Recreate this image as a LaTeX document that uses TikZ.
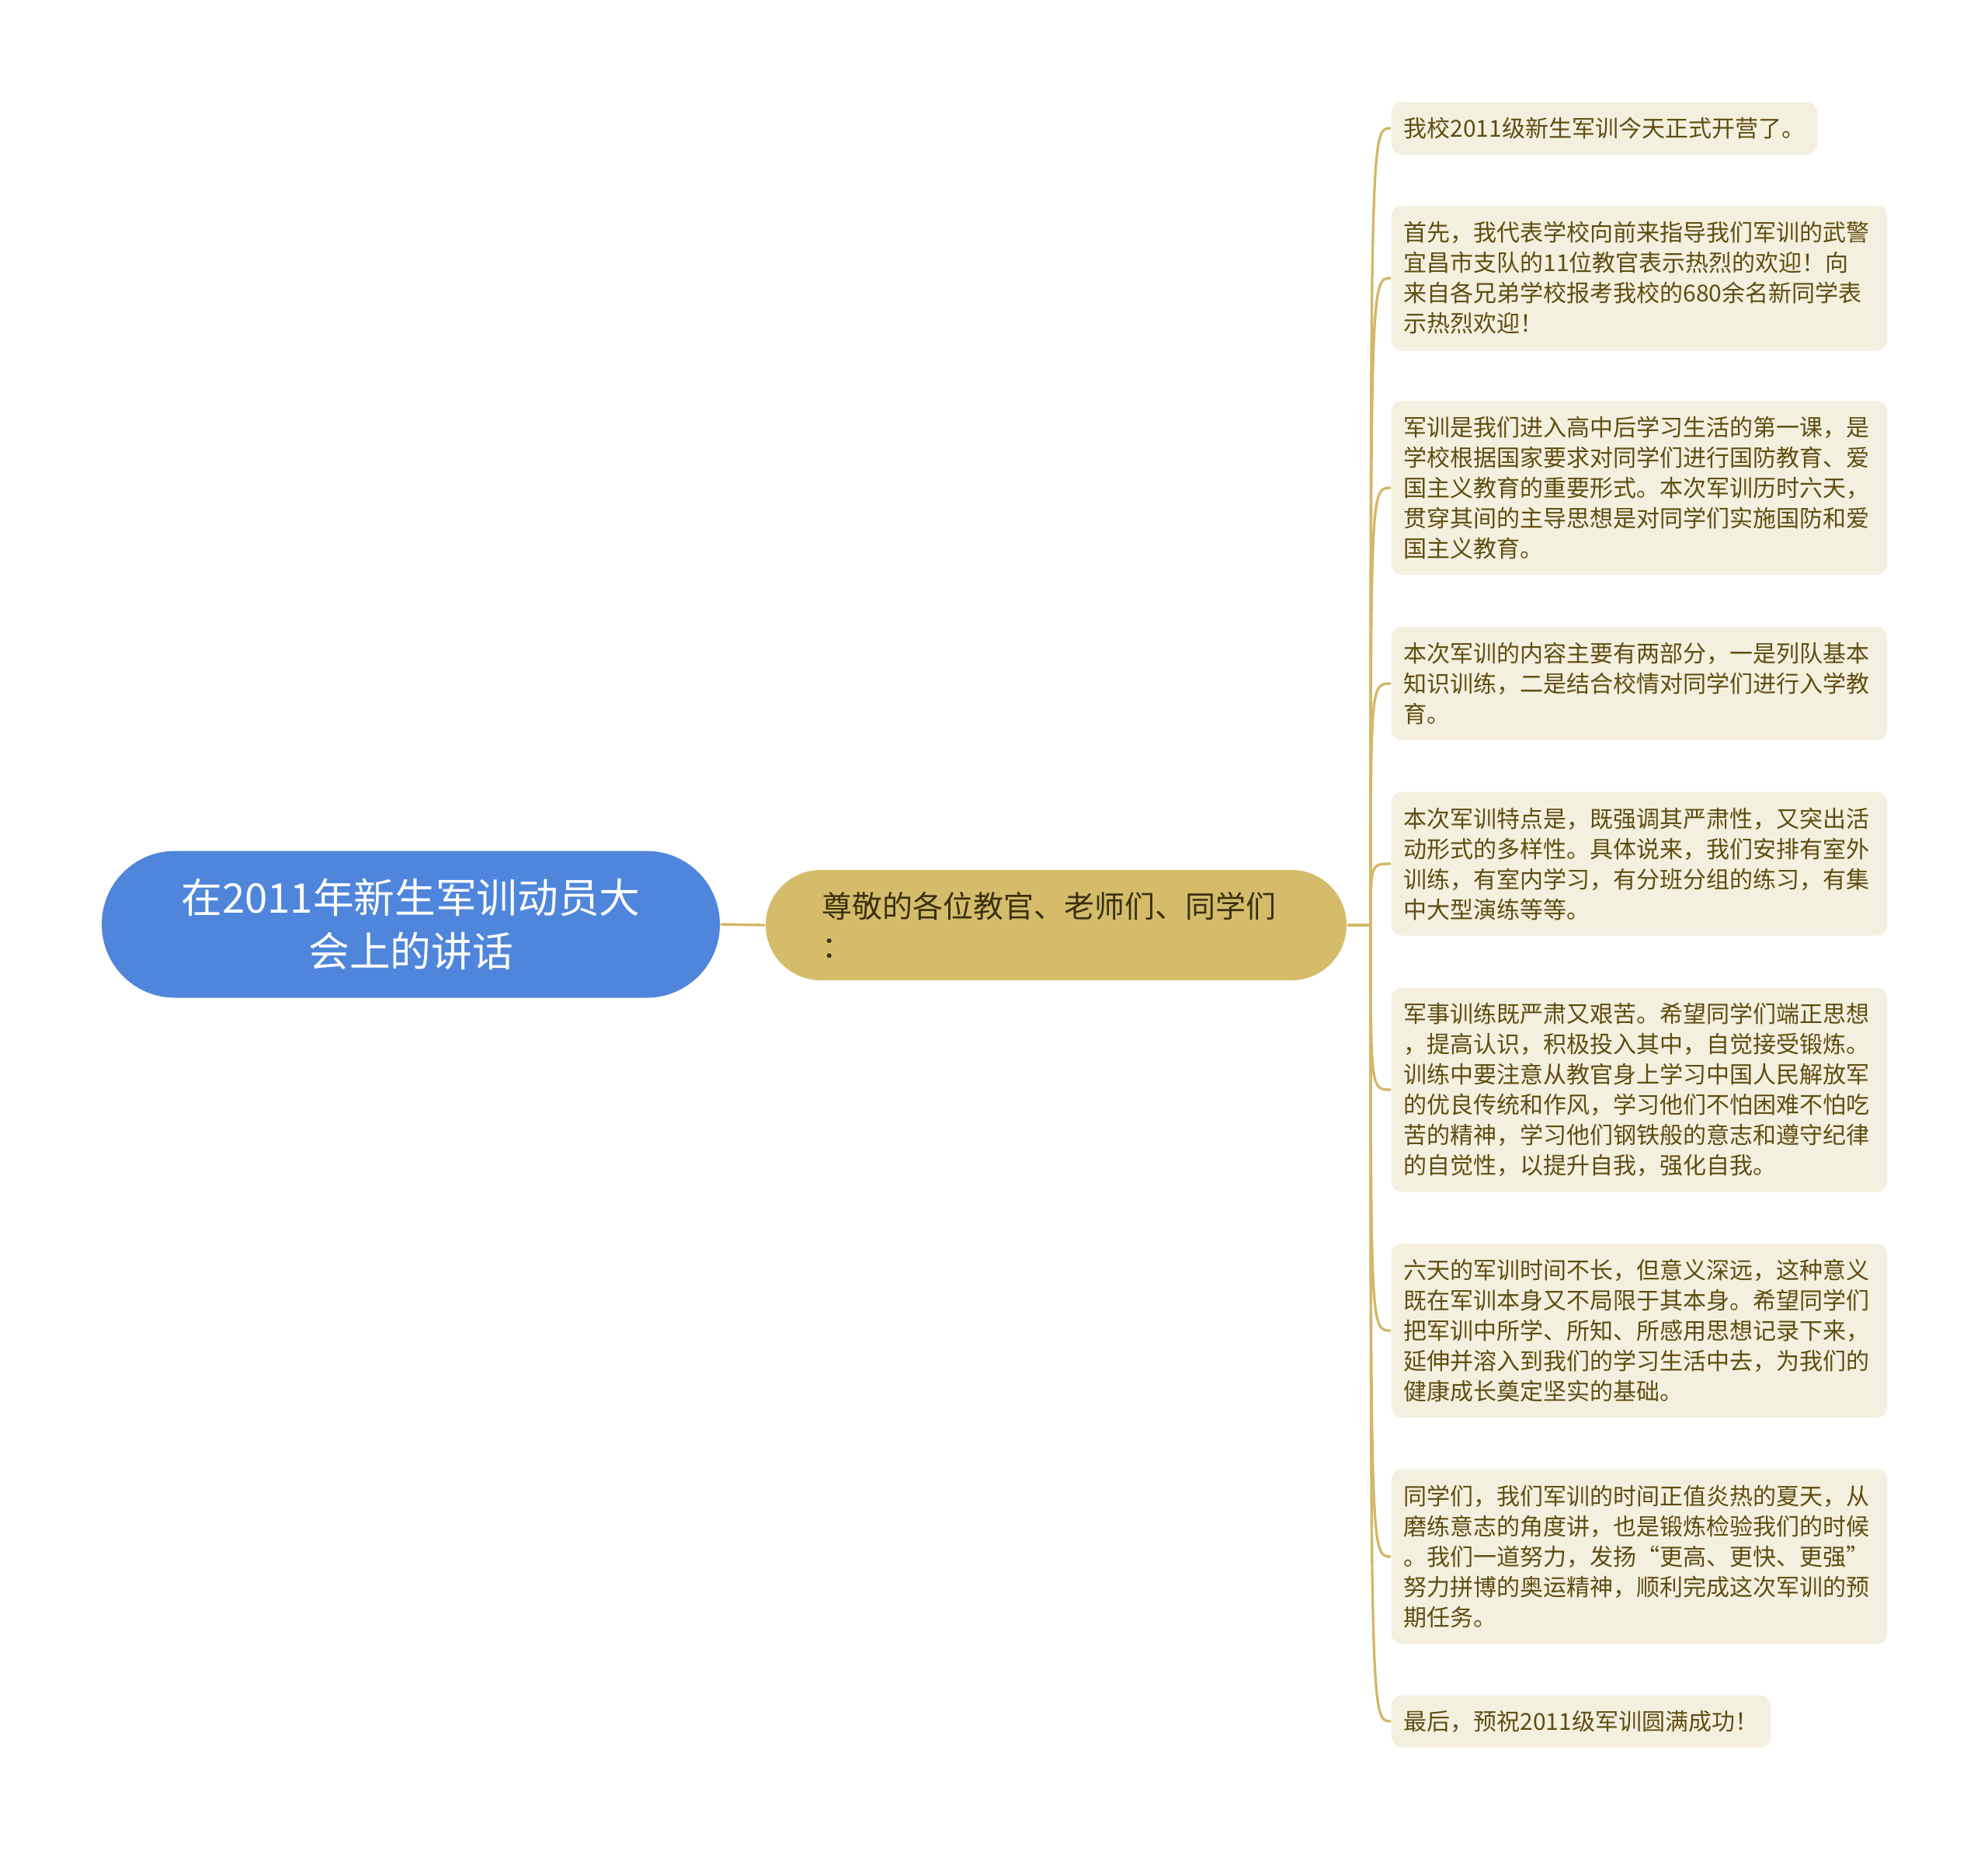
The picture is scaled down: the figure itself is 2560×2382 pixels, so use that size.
\documentclass[tikz,border=0pt]{standalone}
\usepackage{fontspec}
\newfontfamily\cjk{Noto Sans CJK SC}
\usetikzlibrary{positioning}
\definecolor{rootblue}{HTML}{4F86DB}
\definecolor{topicgold}{HTML}{D4BC6A}
\definecolor{linkgold}{HTML}{D2B868}
\definecolor{leaffill}{HTML}{F4F0E0}
\definecolor{leaftext}{HTML}{5F4D10}
\definecolor{topictext}{HTML}{3A3010}

\begin{document}
\begin{tikzpicture}[
    x=0.3pt,y=-0.3pt,
    font=\cjk,
    base/.style={rectangle,inner sep=0pt},
    rootbox/.style={base,fill=rootblue,text=white,rounded corners=28.3pt,minimum width=238.8pt,minimum height=56.7pt,align=center,font=\cjk\fontsize{15.8pt}{20.6pt}\selectfont},
    topicbox/.style={base,fill=topicgold,text=topictext,rounded corners=21.3pt,inner xsep=21.6pt,text width=181.2pt,minimum height=42.6pt,align=left,font=\cjk\fontsize{11.7pt}{15.6pt}\selectfont},
    leaf/.style={base,fill=leaffill,text=leaftext,rounded corners=4pt,inner xsep=4.8pt,inner ysep=3pt,anchor=west,align=left,font=\cjk\fontsize{9pt}{11.7pt}\selectfont},
    wideleaf/.style={leaf,text width=182pt},
    link/.style={draw=linkgold,line width=1pt}
  ]
  \useasboundingbox (0,0) rectangle (2560,2382);

  \node(r) [rootbox] at (529,1190) {在2011年新生军训动员大\\会上的讲话};
  \node(m) [topicbox] at (1360,1191) {尊敬的各位教官、老师们、同学们\\：};
  \coordinate(hub) at (1765,1191);

  \node(l1) [leaf,minimum height=20.4pt] at (1791,165) {我校2011级新生军训今天正式开营了。};
  \node(l2) [wideleaf,minimum height=56.1pt] at (1791,358) {首先，我代表学校向前来指导我们军训的武警\\宜昌市支队的11位教官表示热烈的欢迎！向\\来自各兄弟学校报考我校的680余名新同学表\\示热烈欢迎！};
  \node(l3) [wideleaf,minimum height=67.2pt] at (1791,628) {军训是我们进入高中后学习生活的第一课，是\\学校根据国家要求对同学们进行国防教育、爱\\国主义教育的重要形式。本次军训历时六天，\\贯穿其间的主导思想是对同学们实施国防和爱\\国主义教育。};
  \node(l4) [wideleaf,minimum height=43.8pt] at (1791,880) {本次军训的内容主要有两部分，一是列队基本\\知识训练，二是结合校情对同学们进行入学教\\育。};
  \node(l5) [wideleaf,minimum height=55.5pt] at (1791,1112) {本次军训特点是，既强调其严肃性，又突出活\\动形式的多样性。具体说来，我们安排有室外\\训练，有室内学习，有分班分组的练习，有集\\中大型演练等等。};
  \node(l6) [wideleaf,minimum height=78.9pt] at (1791,1403) {军事训练既严肃又艰苦。希望同学们端正思想\\，提高认识，积极投入其中，自觉接受锻炼。\\训练中要注意从教官身上学习中国人民解放军\\的优良传统和作风，学习他们不怕困难不怕吃\\苦的精神，学习他们钢铁般的意志和遵守纪律\\的自觉性，以提升自我，强化自我。};
  \node(l7) [wideleaf,minimum height=67.2pt] at (1791,1713) {六天的军训时间不长，但意义深远，这种意义\\既在军训本身又不局限于其本身。希望同学们\\把军训中所学、所知、所感用思想记录下来，\\延伸并溶入到我们的学习生活中去，为我们的\\健康成长奠定坚实的基础。};
  \node(l8) [wideleaf,minimum height=67.5pt] at (1791,2004) {同学们，我们军训的时间正值炎热的夏天，从\\磨练意志的角度讲，也是锻炼检验我们的时候\\。我们一道努力，发扬“更高、更快、更强”\\努力拼博的奥运精神，顺利完成这次军训的预\\期任务。};
  \node(l9) [leaf,minimum height=20.1pt] at (1791,2216) {最后，预祝2011级军训圆满成功！};

  \draw[link] (r.east) -- (m.west);
  \draw[link] (m.east) -- (hub);
  \foreach \i in {1,...,9}
    \draw[link] (hub) .. controls (hub |- l\i.west) .. (l\i.west);

\end{tikzpicture}
\end{document}
